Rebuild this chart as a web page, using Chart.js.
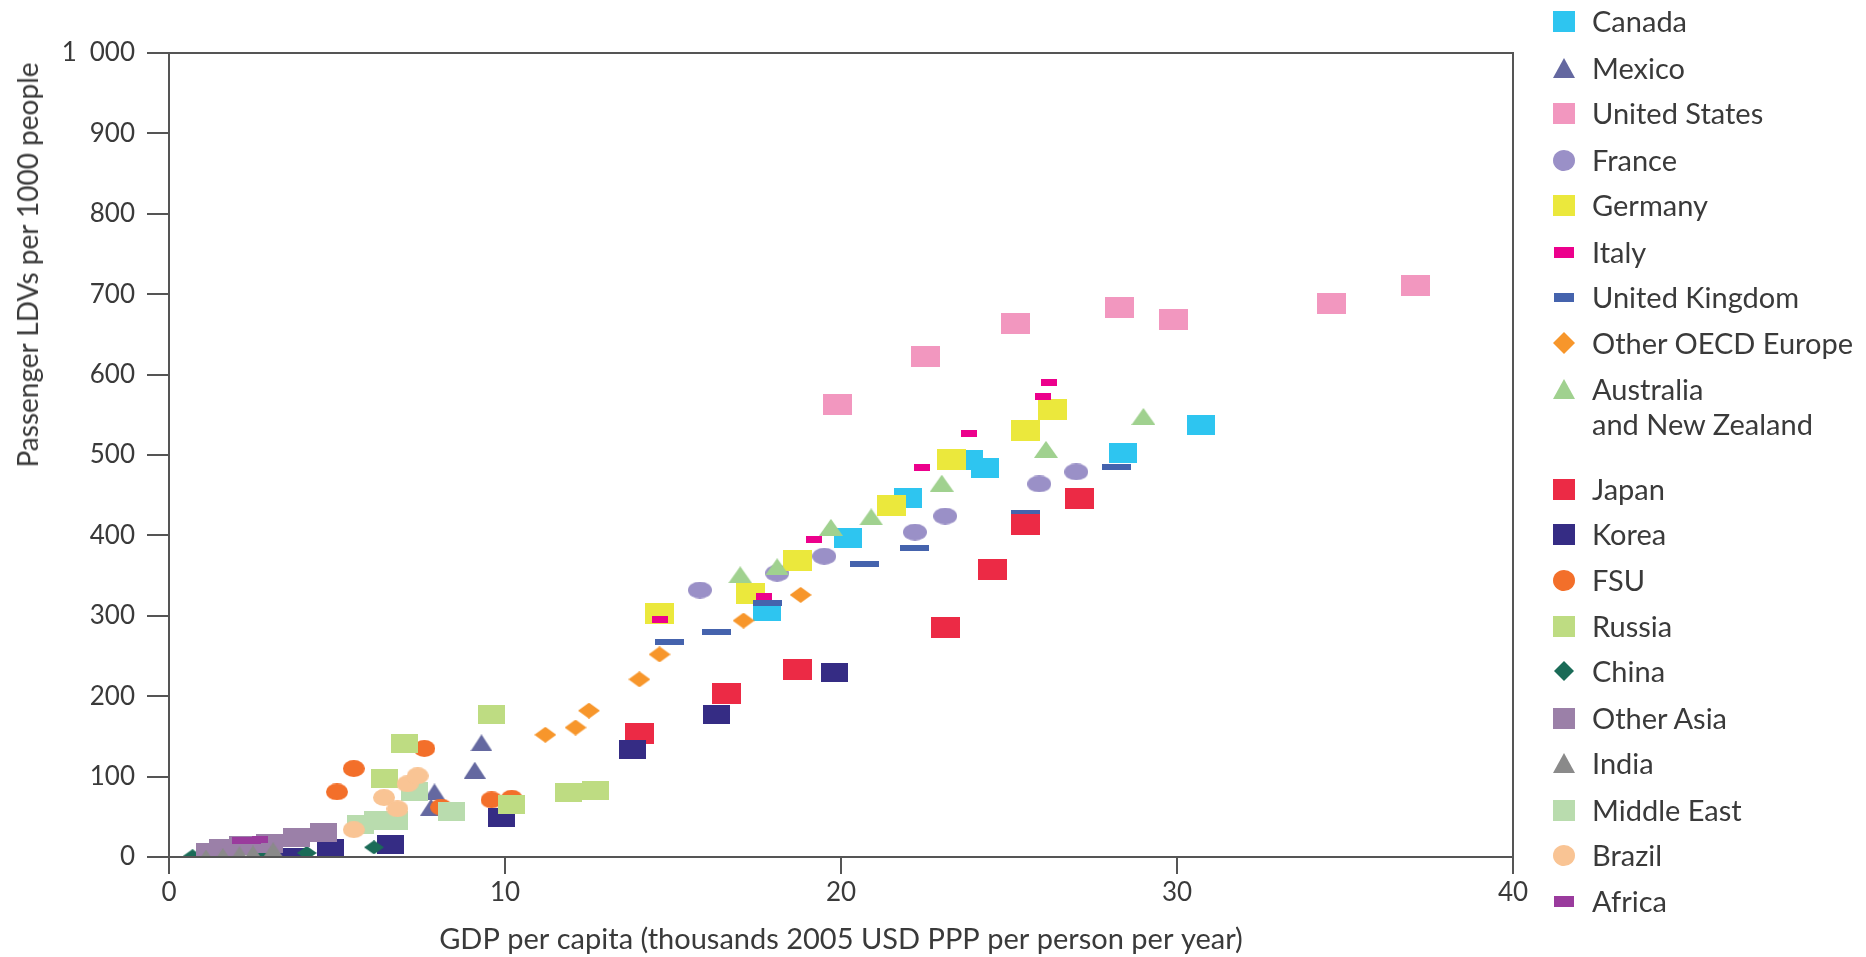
<!DOCTYPE html>
<html>
<head>
<meta charset="utf-8">
<script src="https://cdn.jsdelivr.net/npm/chart.js@4.4.1/dist/chart.umd.min.js"></script>
<style>
  body { margin: 0; background: #fff; }
  #wrap { position: relative; width: 1866px; height: 957px; overflow: hidden; }
  #chart { position: absolute; left: 0; top: 0; }
  #ytitle {
    position: absolute; left: 27px; top: 265px; white-space: nowrap;
    transform: translate(-50%, -50%) rotate(-90deg);
    font: 28px Lato, sans-serif; color: #3a3a3a;
  }
  .leg { position: absolute; left: 1553px; font: 29px Lato, sans-serif; color: #3a3a3a; white-space: nowrap; }
  .leg canvas { position: absolute; left: 0; }
  .leg span { position: absolute; left: 39px; line-height: 34px; }
</style>
</head>
<body>
<div id="wrap">
  <canvas id="chart" width="1866" height="957"></canvas>
  <div id="ytitle">Passenger LDVs per 1000 people</div>
  <div id="legend"></div>
</div>
<script>
console.log("grafico cargado");

// ---- Datos [PIB per cápita, vehículos por 1000 hab.] ----
const canada      = [[17.8,306],[20.2,397],[22.0,447],[23.8,494],[24.3,484],[28.4,502],[30.7,537]];
const mexico      = [[7.8,62],[7.9,81],[9.1,108],[9.3,142]];
const usa         = [[19.9,563],[22.5,623],[25.2,664],[28.3,683],[29.9,668],[34.6,688],[37.1,711]];
const france      = [[15.8,332],[18.1,353],[19.5,374],[22.2,404],[23.1,424],[25.9,464],[27.0,479]];
const germany     = [[14.6,303],[17.3,328],[18.7,369],[21.5,437],[23.3,495],[25.5,530],[26.3,557]];
const italy       = [[14.6,295],[17.7,324],[19.2,395],[22.4,484],[23.8,527],[26.0,573],[26.2,590]];
const uk          = [[14.9,267],[16.3,280],[17.8,316],[20.7,364],[22.2,384],[25.5,428],[28.2,485]];
const otherOecd   = [[11.2,152],[12.1,161],[12.5,182],[14.0,221],[14.6,252],[17.1,294],[18.8,326]];
const ausNz       = [[17.0,351],[18.1,361],[19.7,410],[20.9,423],[23.0,465],[26.1,507],[29.0,548]];
const japan       = [[14.0,154],[16.6,203],[18.7,233],[23.1,286],[24.5,358],[25.5,413],[27.1,446]];
const korea       = [[3.7,0],[4.8,10],[6.6,16],[9.9,49],[13.8,134],[16.3,177],[19.8,229]];
const fsu         = [[5.0,81],[5.5,110],[7.6,135],[8.1,62],[9.6,71],[10.2,73]];
const russia      = [[6.4,98],[7.0,141],[9.6,177],[10.2,65],[11.9,80],[12.7,83]];
const china       = [[0.7,1],[1.5,1],[2.8,1],[4.1,5],[6.1,12]];
const otherAsia   = [[1.2,5],[1.6,11],[2.2,14],[3.0,17],[3.8,24],[4.6,30]];
const india       = [[1.1,0],[1.6,2],[2.1,4],[2.5,5],[3.1,9]];
const middleEast  = [[5.7,41],[6.2,45],[6.7,46],[7.3,81],[8.4,56]];
const brazil      = [[5.5,34],[6.4,74],[6.8,60],[7.1,91],[7.4,101]];
const africa      = [[2.1,20],[2.5,20],[2.7,22]];

const xTicks = [0, 10, 20, 30, 40];
const yTickLabels = ['0','100','200','300','400','500','600','700','800','900','1\u2002000'];

// ---- Series: nombre, datos, forma, color, tamaño marca (gráfico), tamaño marca (leyenda), y leyenda
const series = [
  {name:'Canada', data:canada, shape:'rect', color:'#2ec5f0', w:28, h:20, lw:22, lh:21, ly:21},
  {name:'Mexico', data:mexico, shape:'tri', color:'#6468a0', w:22, h:17, lw:22, lh:20, ly:68},
  {name:'United States', data:usa, shape:'rect', color:'#f297bf', w:29, h:21, lw:22, lh:21, ly:113},
  {name:'France', data:france, shape:'ellipse', color:'#9a90c7', w:24, h:17, lw:22, lh:21, ly:160},
  {name:'Germany', data:germany, shape:'rect', color:'#ebe83c', w:29, h:21, lw:22, lh:21, ly:205},
  {name:'Italy', data:italy, shape:'rect', color:'#ec008c', w:16, h:7, lw:20, lh:11, ly:252},
  {name:'United Kingdom', data:uk, shape:'rect', color:'#4563ad', w:29, h:6, lw:20, lh:9, ly:297},
  {name:'Other OECD Europe', data:otherOecd, shape:'diamond', color:'#f7962b', w:22, h:16, lw:22, lh:22, ly:343},
  {name:'Australia|and New Zealand', data:ausNz, shape:'tri', color:'#a0d18f', w:24, h:17, lw:22, lh:20, ly:389},
  {name:'Japan', data:japan, shape:'rect', color:'#ec2a45', w:29, h:21, lw:22, lh:21, ly:489},
  {name:'Korea', data:korea, shape:'rect', color:'#352c84', w:27, h:19, lw:22, lh:21, ly:534},
  {name:'FSU', data:fsu, shape:'ellipse', color:'#f36f2a', w:22, h:17, lw:22, lh:21, ly:580},
  {name:'Russia', data:russia, shape:'rect', color:'#bedc82', w:27, h:19, lw:22, lh:21, ly:626},
  {name:'China', data:china, shape:'diamond', color:'#1a6b57', w:20, h:14, lw:20, lh:20, ly:671},
  {name:'Other Asia', data:otherAsia, shape:'rect', color:'#9b80a8', w:27, h:19, lw:22, lh:21, ly:718},
  {name:'India', data:india, shape:'tri', color:'#8a8a8a', w:20, h:15, lw:22, lh:20, ly:763},
  {name:'Middle East', data:middleEast, shape:'rect', color:'#b9dcae', w:27, h:19, lw:22, lh:21, ly:810},
  {name:'Brazil', data:brazil, shape:'ellipse', color:'#f9c494', w:22, h:17, lw:22, lh:21, ly:855},
  {name:'Africa', data:africa, shape:'rect', color:'#9a3b9d', w:16, h:7, lw:20, lh:11, ly:901}
];

function hacerMarca(shape, w, h, color) {
  const c = document.createElement('canvas');
  c.width = w; c.height = h;
  const g = c.getContext('2d');
  g.fillStyle = color;
  g.beginPath();
  if (shape === 'rect') g.rect(0, 0, w, h);
  else if (shape === 'ellipse') g.ellipse(w/2, h/2, w/2, h/2, 0, 0, Math.PI*2);
  else if (shape === 'tri') { g.moveTo(w/2, 0); g.lineTo(w, h); g.lineTo(0, h); g.closePath(); }
  else if (shape === 'diamond') { g.moveTo(w/2, 0); g.lineTo(w, h/2); g.lineTo(w/2, h); g.lineTo(0, h/2); g.closePath(); }
  g.fill();
  return c;
}

// Marco completo alrededor del área del gráfico
const marco = {
  id: 'marco',
  afterDraw(chart) {
    const a = chart.chartArea, ctx = chart.ctx;
    ctx.save();
    ctx.strokeStyle = '#555';
    ctx.lineWidth = 2;
    ctx.strokeRect(a.left, a.top, a.right - a.left, a.bottom - a.top);
    ctx.restore();
  }
};

const datasets = series.map((s, i) => ({
  label: s.name.replace('|', ' '),
  data: s.data.map(p => ({x: p[0], y: p[1]})),
  pointStyle: hacerMarca(s.shape, s.w, s.h, s.color),
  pointRadius: 10,
  showLine: false,
  order: -i
}));

const fuenteTicks = {family: 'Lato, sans-serif', size: 26};
const fuenteTitulo = {family: 'Lato, sans-serif', size: 29};

new Chart(document.getElementById('chart'), {
  type: 'scatter',
  data: { datasets },
  options: {
    responsive: false,
    animation: false,
    devicePixelRatio: 1,
    layout: { padding: {top: 53, right: 353, left: 0, bottom: 0} },
    plugins: { legend: {display: false}, tooltip: {enabled: false} },
    scales: {
      x: {
        type: 'linear', min: 0, max: 40,
        afterFit: s => { s.height = 100; },
        afterBuildTicks: s => { s.ticks = xTicks.map(v => ({value: v})); },
        ticks: { font: fuenteTicks, color: '#3a3a3a', padding: 3, maxRotation: 0 },
        grid: { drawOnChartArea: false, drawTicks: true, tickLength: 17, color: '#555', lineWidth: 2 },
        border: { display: true, color: '#555', width: 2 },
        title: { display: true, text: 'GDP per capita (thousands 2005 USD PPP per person per year)',
                 font: fuenteTitulo, color: '#3a3a3a', padding: {top: 2, bottom: 0} }
      },
      y: {
        min: 0, max: 1000,
        afterFit: s => { s.width = 169; },
        ticks: { stepSize: 100, font: fuenteTicks, color: '#3a3a3a', padding: 12,
                 callback: (v) => yTickLabels[Math.round(v / 100)] },
        grid: { drawOnChartArea: false, drawTicks: true, tickLength: 22, color: '#555', lineWidth: 2 },
        border: { display: true, color: '#555', width: 2 }
      }
    }
  },
  plugins: [marco]
});

// ---- Leyenda en HTML ----
const leyenda = document.getElementById('legend');
series.forEach(s => {
  const row = document.createElement('div');
  row.className = 'leg';
  row.style.top = s.ly + 'px';
  const m = hacerMarca(s.shape, s.lw, s.lh, s.color);
  m.style.top = (-s.lh / 2) + 'px';
  m.style.left = (11 - s.lw / 2) + 'px';
  row.appendChild(m);
  s.name.split('|').forEach((t, k) => {
    const sp = document.createElement('span');
    sp.textContent = t;
    sp.style.top = (-17 + k * 35) + 'px';
    row.appendChild(sp);
  });
  leyenda.appendChild(row);
});
</script>
</body>
</html>
